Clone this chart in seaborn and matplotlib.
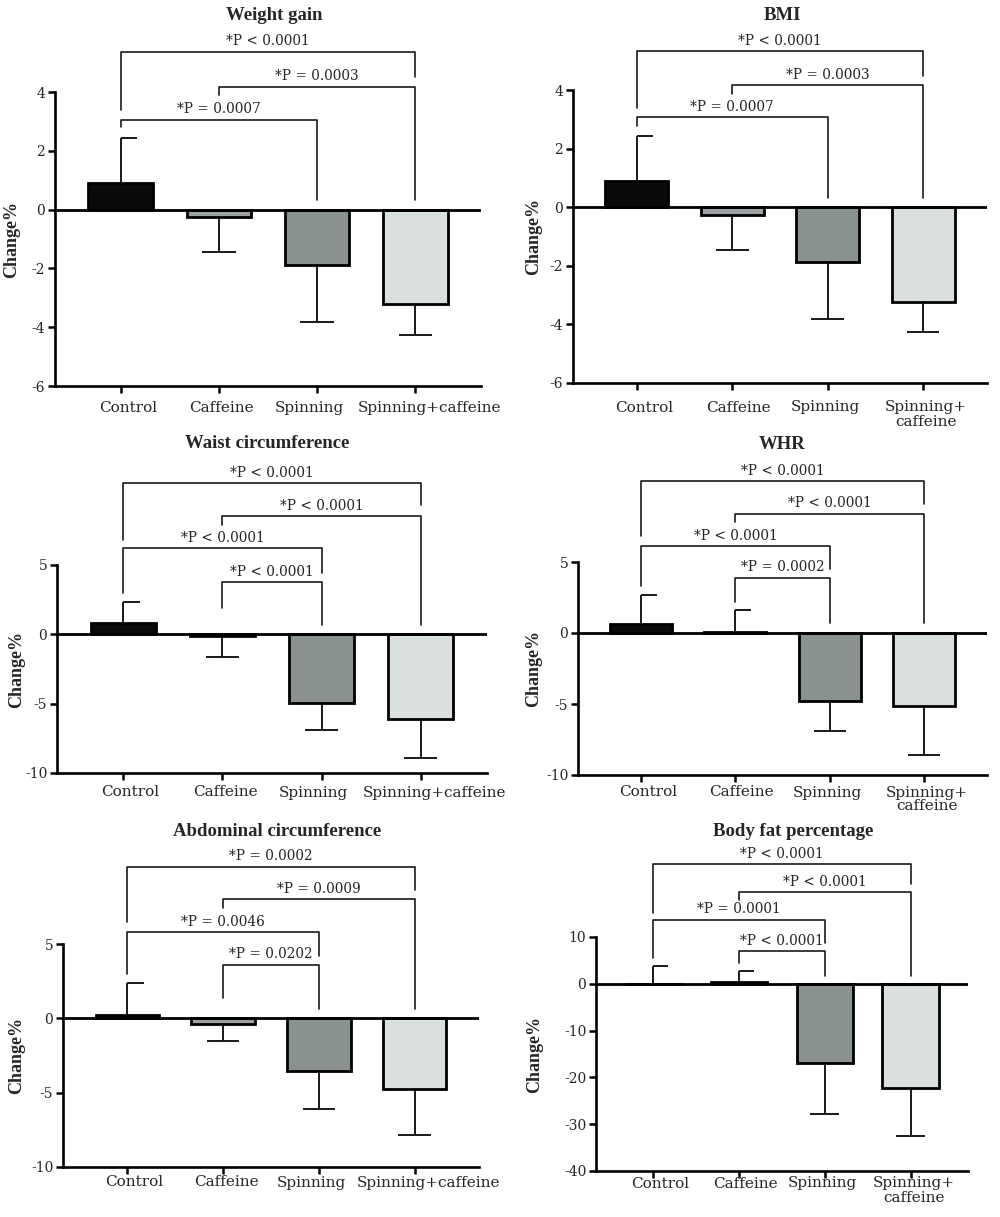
import numpy as np
import pandas as pd
import matplotlib
matplotlib.use("Agg")
import matplotlib.pyplot as plt
import seaborn as sns

# ---------------- data ----------------
groups = ["Control", "Caffeine", "Spinning", "Spinning+caffeine"]
labels_wide = ["Control", "Caffeine", "Spinning", "Spinning+caffeine"]
labels_wrap = ["Control", "Caffeine", "Spinning", "Spinning+\ncaffeine"]
bar_colors = ["#0a0a0a", "#9ca4a6", "#87938f", "#d9e1de"]

titles = ["Weight gain", "BMI", "Waist circumference", "WHR",
          "Abdominal circumference", "Body fat percentage"]

weight_mean = [0.9, -0.25, -1.9, -3.22]
weight_sd = [1.53, 1.2, 1.92, 1.06]
bmi_mean = [0.9, -0.27, -1.88, -3.23]
bmi_sd = [1.53, 1.18, 1.94, 1.04]
waist_mean = [0.79, -0.15, -4.96, -6.1]
waist_sd = [1.51, 1.45, 1.94, 2.8]
whr_mean = [0.6, 0.05, -4.8, -5.15]
whr_sd = [2.05, 1.55, 2.1, 3.45]
abdo_mean = [0.2, -0.35, -3.55, -4.75]
abdo_sd = [2.2, 1.15, 2.55, 3.1]
fat_mean = [0.05, 0.3, -17.0, -22.3]
fat_sd = [3.65, 2.5, 10.8, 10.2]

y_ticks_small = [-6, -4, -2, 0, 2, 4]
y_ticks_circ = [-10, -5, 0, 5]
y_ticks_fat = [-40, -30, -20, -10, 0, 10]

# significance brackets: (group i, group j, level, left leg end, right leg end, text)
weight_brackets = [(0, 2, 3.06, 2.8, 0.34, "*P = 0.0007"),
                   (1, 3, 4.18, 3.9, 0.34, "*P = 0.0003"),
                   (0, 3, 5.37, 3.4, 4.5, "*P < 0.0001")]
bmi_brackets = [(0, 2, 3.07, 2.77, 0.33, "*P = 0.0007"),
                (1, 3, 4.16, 3.86, 0.33, "*P = 0.0003"),
                (0, 3, 5.32, 3.37, 4.47, "*P < 0.0001")]
waist_brackets = [(1, 2, 3.74, 1.87, 0.65, "*P < 0.0001"),
                  (0, 2, 6.2, 3.0, 4.4, "*P < 0.0001"),
                  (1, 3, 8.5, 7.9, 0.65, "*P < 0.0001"),
                  (0, 3, 10.9, 6.8, 9.3, "*P < 0.0001")]
whr_brackets = [(1, 2, 3.9, 2.2, 0.7, "*P = 0.0002"),
                (0, 2, 6.1, 3.3, 4.5, "*P < 0.0001"),
                (1, 3, 8.4, 7.8, 0.7, "*P < 0.0001"),
                (0, 3, 10.7, 6.8, 9.1, "*P < 0.0001")]
abdo_brackets = [(1, 2, 3.6, 1.35, 0.65, "*P = 0.0202"),
                 (0, 2, 5.8, 3.0, 4.2, "*P = 0.0046"),
                 (1, 3, 8.0, 7.4, 0.65, "*P = 0.0009"),
                 (0, 3, 10.2, 6.5, 8.6, "*P = 0.0002")]
fat_brackets = [(1, 2, 7.0, 4.5, 1.7, "*P < 0.0001"),
                (0, 2, 13.7, 5.5, 8.8, "*P = 0.0001"),
                (1, 3, 19.6, 17.9, 1.7, "*P < 0.0001"),
                (0, 3, 25.6, 15.2, 21.3, "*P < 0.0001")]

# ---------------- style ----------------
sns.set_style("ticks")
plt.rcParams["font.family"] = ["DejaVu Serif", "Liberation Serif"]
TITLE_FONT = ["Liberation Serif", "DejaVu Serif"]

W, H = 1000, 1217
fig = plt.figure(figsize=(W / 100, H / 100), dpi=100)
fig.patch.set_facecolor("white")


def px_rect(x0, x1, ytop, ybot):
    return [x0 / W, 1 - ybot / H, (x1 - x0) / W, (ybot - ytop) / H]


# horizontal nudges (pixels) of the x tick labels, as in the reference
shift_wide = [7, 3, -8, 14]
shift_wrap = [7, 6, -2, 3]

panels = [
    dict(title=titles[0], mean=weight_mean, sd=weight_sd, br=weight_brackets,
         ticks=y_ticks_small, xl=labels_wide, sh=shift_wide, lab_dy=14.5,
         rect=px_rect(55, 481, 92, 386), title_xy=(274, 15), ylab_x=-0.082),
    dict(title=titles[1], mean=bmi_mean, sd=bmi_sd, br=bmi_brackets,
         ticks=y_ticks_small, xl=labels_wrap, sh=shift_wrap, lab_dy=17.5,
         rect=px_rect(573, 987, 90, 383), title_xy=(782, 15), ylab_x=-0.075),
    dict(title=titles[2], mean=waist_mean, sd=waist_sd, br=waist_brackets,
         ticks=y_ticks_circ, xl=labels_wide, sh=shift_wide, lab_dy=12.5,
         rect=px_rect(57, 487, 565, 773), title_xy=(267, 443), ylab_x=-0.074),
    dict(title=titles[3], mean=whr_mean, sd=whr_sd, br=whr_brackets,
         ticks=y_ticks_circ, xl=labels_wrap, sh=shift_wrap, lab_dy=10.5,
         rect=px_rect(578, 987, 562, 775), title_xy=(782, 444), ylab_x=-0.088),
    dict(title=titles[4], mean=abdo_mean, sd=abdo_sd, br=abdo_brackets,
         ticks=y_ticks_circ, xl=labels_wide, sh=shift_wide, lab_dy=8.5,
         rect=px_rect(63, 479, 944, 1167), title_xy=(277, 832), ylab_x=-0.091),
    dict(title=titles[5], mean=fat_mean, sd=fat_sd, br=fat_brackets,
         ticks=y_ticks_fat, xl=labels_wrap, sh=shift_wrap, lab_dy=5.5,
         rect=px_rect(596, 968, 937, 1171), title_xy=(793, 832), ylab_x=-0.142),
]

for p in panels:
    ax = fig.add_axes(p["rect"])
    df = pd.DataFrame({"group": groups, "value": p["mean"]})
    sns.barplot(data=df, x="group", y="value", hue="group", order=groups,
                hue_order=groups, palette=bar_colors, width=0.66,
                edgecolor="black", linewidth=2.0, errorbar=None,
                legend=False, ax=ax, zorder=2)

    x = np.arange(len(groups))
    m = np.array(p["mean"], dtype=float)
    s = np.array(p["sd"], dtype=float)
    pos = m >= 0
    up = np.where(pos, s, 0.0)
    dn = np.where(pos, 0.0, s)
    ax.errorbar(x, m, yerr=[dn, up], fmt="none", ecolor="#111111",
                elinewidth=1.35, capsize=0, zorder=1)
    tips = np.where(pos, m + s, m - s)
    capw = 0.17
    ax.hlines(tips, np.where(pos, x, x - capw), x + capw,
              colors="#111111", linewidth=1.35, zorder=1)

    ax.axhline(0, color="black", linewidth=2.0, zorder=3)

    ticks = p["ticks"]
    ax.set_ylim(ticks[0], ticks[-1])
    ax.set_yticks(ticks)
    ax.set_yticklabels([str(t) for t in ticks], fontsize=10)
    ax.set_xlim(-0.67, len(groups) - 1 + 0.67)
    ax.set_xticks(x)
    ax.set_xticklabels([""] * len(groups))
    for xi, lab, dx in zip(x, p["xl"], p["sh"]):
        ax.annotate(lab, xy=(xi, 0), xycoords=("data", "axes fraction"),
                    xytext=(dx * 0.72, -p["lab_dy"] * 0.72),
                    textcoords="offset points",
                    ha="center", va="top", fontsize=11, linespacing=1.0,
                    annotation_clip=False)
    ax.set_xlabel("")
    ax.set_ylabel("Change%", fontsize=13, fontweight="bold", family=TITLE_FONT)
    ax.yaxis.set_label_coords(p["ylab_x"], 0.5)

    sns.despine(ax=ax)
    for sp in ["left", "bottom"]:
        ax.spines[sp].set_linewidth(1.9)
        ax.spines[sp].set_color("black")
    ax.tick_params(axis="y", direction="out", length=5, width=1.8,
                   color="black", pad=2)
    ax.tick_params(axis="x", direction="out", length=5, width=1.8,
                   color="black", pad=5)
    ax.set_facecolor("white")

    for (i, j, lvl, le, re, txt) in p["br"]:
        ax.plot([i, i, j, j], [le, lvl, lvl, re], color="#1a1a1a",
                linewidth=1.2, clip_on=False, zorder=4)
        ax.annotate(txt, xy=((i + j) / 2, lvl), xytext=(0, 2.5),
                    textcoords="offset points", ha="center", va="bottom",
                    fontsize=9.8, annotation_clip=False)

    tx, ty = p["title_xy"]
    fig.text(tx / W, 1 - ty / H, p["title"], ha="center", va="center",
             fontsize=13.5, fontweight="bold", family=TITLE_FONT)

fig.savefig("out.png", dpi=100, facecolor="white")
